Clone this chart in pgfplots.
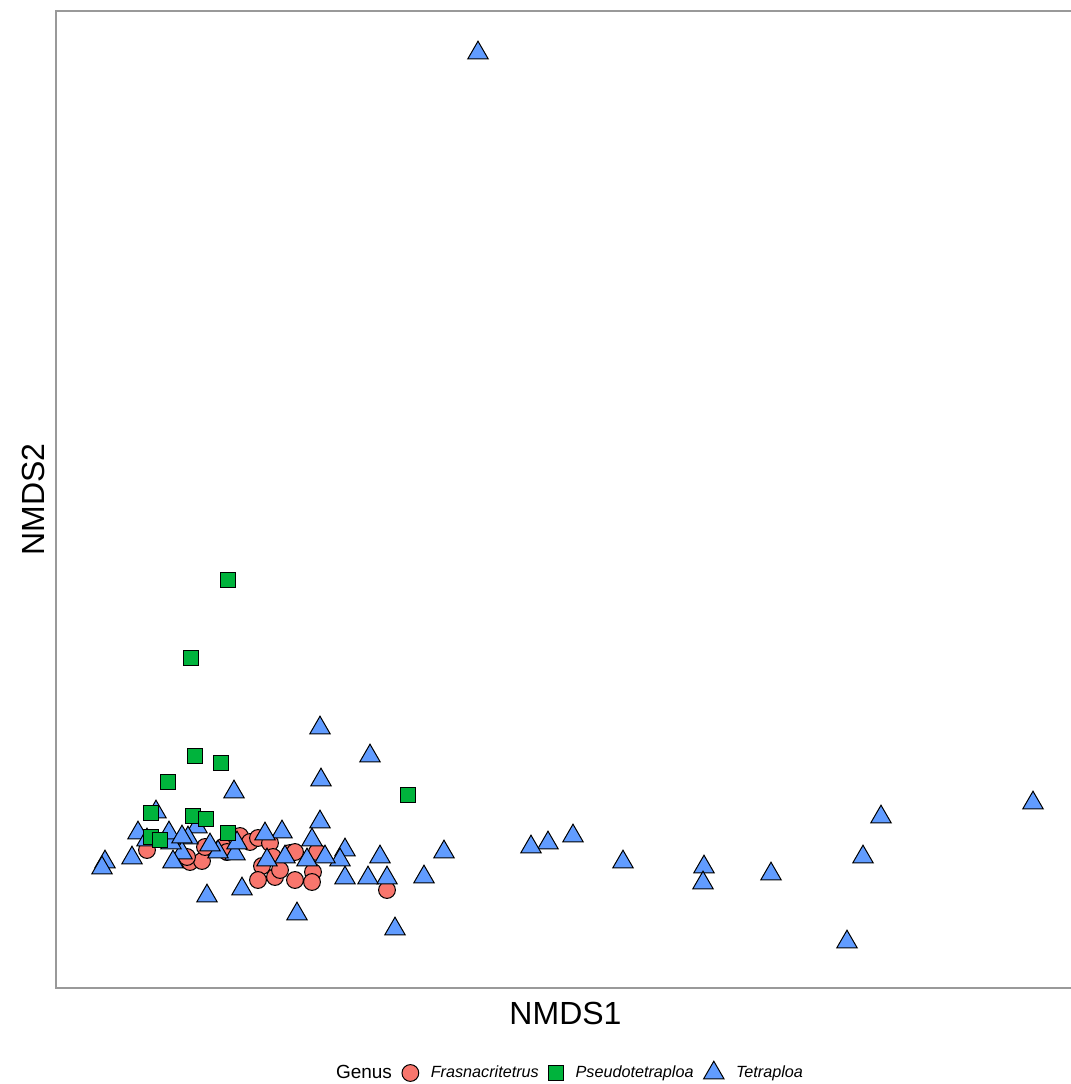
\documentclass[border=0pt]{standalone}
\usepackage{pgfplots}
\pgfplotsset{compat=1.18}
\usepackage{fontspec}
\setmainfont{Liberation Sans}
\definecolor{cfr}{HTML}{F8766D}
\definecolor{cps}{HTML}{00B33C}
\definecolor{cte}{HTML}{619CFF}
\definecolor{frame}{HTML}{999999}
\begin{document}
\begin{tikzpicture}
\begin{axis}[
  at={(28pt,48pt)}, anchor=south west,
  scale only axis, width=509.5pt, height=488.5pt,
  xmin=56, xmax=1075, ymin=-988, ymax=-11,
  xtick=\empty, ytick=\empty,
  axis line style={draw=frame, line width=0.8pt},
  xlabel={NMDS1}, ylabel={NMDS2},
  label style={font=\fontsize{16}{19}\selectfont},
  xlabel style={at={(axis description cs:0.5,0)}, anchor=center, yshift=-12.5pt},
  ylabel style={at={(axis description cs:0,0.5)}, anchor=center, yshift=11.5pt},
  legend columns=-1,
  legend style={at={(0.5,-0.087)}, anchor=center, draw=none, fill=none,
    font=\fontsize{8.1}{10}\selectfont\itshape,
    /tikz/every odd column/.append style={column sep=4pt},
    /tikz/every even column/.append style={column sep=3pt}},
]
\addlegendimage{empty legend}
\addlegendentry{\upshape\fontsize{9.5}{11}\selectfont Genus\hspace{6pt}}
\addplot[only marks, mark=*, mark size=4.2pt, mark options={fill=cfr, draw=black, line width=0.5pt}] table {
147 -850
190 -862
202 -861
205 -847
223 -847
227 -852
240 -836
250 -842
258 -838
270 -843
262 -866
258 -880
275 -877
273 -857
290 -853
295 -852
295 -880
317 -852
313 -872
312 -882
387 -890
280 -870
187 -857
};
\addlegendentry{Frasnacritetrus}
\addplot[only marks, mark=triangle*, mark size=5.9pt, mark options={fill=cte, draw=black, line width=0.5pt}, forget plot] table {
478 -53
1033 -803
881 -817
863 -857
847 -942
771 -874
704 -867
703 -883
623 -862
573 -836
548 -843
531 -847
444 -852
424 -877
395 -929
387 -878
380 -857
368 -878
370 -756
345 -878
345 -850
340 -860
325 -857
320 -728
321 -780
320 -822
312 -840
307 -860
297 -914
285 -857
282 -832
267 -860
265 -834
242 -889
234 -792
235 -854
237 -843
218 -852
210 -845
207 -896
197 -827
188 -838
182 -853
173 -862
171 -843
169 -833
182 -837
156 -812
138 -833
147 -840
132 -858
105 -862
102 -868
};
\addplot[only marks, mark=square*, mark size=3.7pt, mark options={fill=cps, draw=black, line width=0.5pt}] table {
228 -580
191 -658
195 -756
221 -763
168 -782
408 -795
151 -813
193 -816
206 -819
151 -837
160 -840
228 -833
};
\addlegendentry{Pseudotetraploa}
\addlegendimage{only marks, mark=triangle*, mark size=5.9pt, mark options={fill=cte, draw=black, line width=0.5pt}}
\addlegendentry{Tetraploa}
\end{axis}
\pgfresetboundingbox
\useasboundingbox (0,0) rectangle (535.5pt,542pt);
\end{tikzpicture}
\end{document}
